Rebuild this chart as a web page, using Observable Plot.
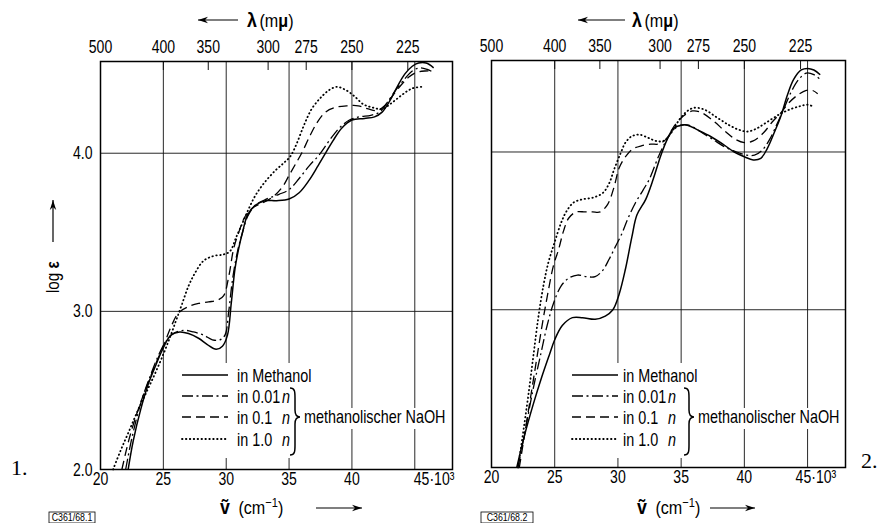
<!DOCTYPE html>
<html><head><meta charset="utf-8">
<script src="https://cdn.jsdelivr.net/npm/d3@7"></script>
<script src="https://cdn.jsdelivr.net/npm/@observablehq/plot@0.6"></script>
<style>
body{margin:0;background:#fff;}
#fig{position:relative;width:882px;height:523px;overflow:hidden;background:#fff;}
#fig svg{position:absolute;top:0;}
</style></head><body><div id="fig"></div>
<script>
// ---- tick values / labels ----
const wavenumberTicks = [20, 25, 30, 35, 40];
const lastWavenumberTick = [45];
const wavelengthTicks = [500, 400, 350, 300, 275, 250, 225];
const logEpsTicks = [2, 3, 4];
const gridWavenumber = [25, 30, 35, 40, 45];
const gridLogEps = [3, 4];
const legendLabels = ["in Methanol", "in 0.01", "in 0.1", "in 1.0"];

// ---- panel 1 (wavenumber in 10^3 cm^-1, log eps) ----
const p1_methanol = [[22.2,2.0],[22.6,2.18],[23.2,2.38],[23.8,2.54],[24.4,2.66],[25.0,2.77],[25.6,2.85],[26.3,2.87],[27.0,2.86],[27.8,2.83],[28.5,2.79],[29.2,2.76],[29.7,2.78],[30.1,2.85],[30.4,3.05],[30.7,3.27],[31.0,3.40],[31.3,3.50],[31.7,3.61],[32.3,3.67],[33.1,3.70],[34.0,3.70],[35.0,3.71],[35.8,3.75],[36.6,3.83],[37.3,3.92],[37.9,4.00],[38.5,4.08],[39.2,4.16],[40.0,4.21],[41.0,4.22],[41.8,4.23],[42.4,4.26],[43.0,4.33],[43.6,4.42],[44.2,4.50],[44.8,4.55],[45.3,4.57],[45.9,4.57],[46.5,4.54]];
const p1_naoh001 = [[22.0,2.0],[22.5,2.2],[23.2,2.42],[24.0,2.6],[24.6,2.72],[25.2,2.81],[25.8,2.86],[26.6,2.88],[27.4,2.87],[28.2,2.85],[28.9,2.82],[29.5,2.82],[29.9,2.85],[30.2,3.0],[30.5,3.2],[30.9,3.38],[31.3,3.50],[31.7,3.60],[32.3,3.67],[33.2,3.71],[34.2,3.74],[35.0,3.77],[35.8,3.84],[36.6,3.92],[37.4,3.99],[38.2,4.08],[39.0,4.16],[39.8,4.21],[40.6,4.23],[41.5,4.24],[42.2,4.26],[42.8,4.32],[43.5,4.40],[44.2,4.47],[44.8,4.52],[45.4,4.54],[46.0,4.53],[46.5,4.51]];
const p1_naoh01 = [[21.7,2.0],[22.3,2.2],[23.0,2.38],[23.7,2.53],[24.4,2.67],[25.0,2.78],[25.6,2.9],[26.2,2.99],[27.0,3.03],[27.8,3.05],[28.6,3.06],[29.3,3.07],[29.8,3.10],[30.2,3.22],[30.6,3.40],[31.0,3.50],[31.5,3.60],[32.2,3.66],[33.0,3.69],[33.8,3.73],[34.5,3.79],[35.0,3.86],[35.5,3.93],[36.0,4.00],[36.6,4.10],[37.2,4.19],[37.9,4.26],[38.7,4.29],[39.6,4.30],[40.5,4.30],[41.3,4.28],[42.0,4.27],[42.6,4.30],[43.2,4.36],[43.9,4.43],[44.5,4.48],[45.1,4.51],[45.8,4.52],[46.5,4.52]];
const p1_naoh10 = [[21.0,2.0],[21.6,2.12],[22.2,2.23],[22.9,2.36],[23.6,2.48],[24.3,2.60],[24.9,2.71],[25.5,2.83],[26.0,2.94],[26.5,3.05],[27.0,3.16],[27.5,3.24],[28.2,3.32],[29.0,3.35],[29.8,3.36],[30.3,3.38],[30.8,3.47],[31.3,3.56],[31.8,3.65],[32.3,3.73],[33.0,3.81],[33.9,3.89],[34.6,3.94],[35.1,3.98],[35.6,4.06],[36.2,4.18],[36.8,4.28],[37.5,4.35],[38.2,4.40],[38.8,4.42],[39.5,4.40],[40.2,4.36],[40.9,4.31],[41.6,4.29],[42.4,4.28],[43.2,4.32],[44.0,4.37],[44.8,4.41],[45.6,4.42]];

// ---- panel 2 ----
const p2_methanol = [[22.0,2.0],[22.6,2.2],[23.3,2.4],[24.0,2.58],[24.6,2.72],[25.0,2.81],[25.6,2.90],[26.4,2.95],[27.2,2.95],[28.2,2.94],[29.0,2.96],[29.6,3.0],[30.1,3.10],[30.6,3.26],[31.1,3.46],[31.5,3.60],[32.2,3.70],[32.8,3.83],[33.4,3.98],[33.9,4.08],[34.4,4.15],[35.0,4.17],[35.5,4.17],[36.3,4.14],[37.3,4.10],[38.3,4.05],[39.2,4.00],[40.0,3.97],[40.7,3.95],[41.3,3.96],[41.8,4.02],[42.4,4.13],[42.9,4.23],[43.4,4.36],[43.9,4.46],[44.5,4.52],[45.0,4.53],[45.5,4.52],[46.0,4.49]];
const p2_naoh001 = [[22.1,2.0],[22.7,2.25],[23.3,2.5],[23.9,2.72],[24.4,2.9],[24.9,3.04],[25.5,3.15],[26.1,3.20],[26.8,3.22],[27.5,3.21],[28.2,3.21],[28.8,3.25],[29.3,3.32],[29.8,3.40],[30.3,3.48],[30.8,3.58],[31.4,3.68],[32.0,3.76],[32.5,3.83],[33.2,3.97],[33.8,4.07],[34.4,4.14],[35.0,4.17],[35.6,4.17],[36.5,4.13],[37.5,4.08],[38.5,4.03],[39.4,4.00],[40.2,3.98],[40.8,3.98],[41.4,4.01],[42.0,4.08],[42.6,4.18],[43.1,4.27],[43.7,4.38],[44.3,4.46],[44.9,4.50],[45.5,4.49],[46.0,4.46]];
const p2_naoh01 = [[22.2,2.0],[22.8,2.3],[23.4,2.6],[24.0,2.9],[24.4,3.08],[24.9,3.28],[25.3,3.38],[25.7,3.50],[26.1,3.58],[26.7,3.62],[27.4,3.62],[28.0,3.62],[28.6,3.62],[29.2,3.67],[29.7,3.78],[30.1,3.90],[30.6,3.97],[31.2,4.02],[31.9,4.04],[32.6,4.05],[33.2,4.05],[33.8,4.08],[34.5,4.17],[35.2,4.23],[35.9,4.26],[36.6,4.25],[37.5,4.20],[38.5,4.13],[39.3,4.08],[40.0,4.06],[40.7,4.07],[41.5,4.12],[42.2,4.19],[42.9,4.25],[43.5,4.31],[44.2,4.36],[44.9,4.39],[45.4,4.39],[45.8,4.37]];
const p2_naoh10 = [[22.1,2.0],[22.5,2.22],[22.9,2.45],[23.3,2.7],[23.7,2.95],[24.1,3.15],[24.5,3.3],[25.0,3.43],[25.5,3.55],[25.9,3.62],[26.5,3.68],[27.2,3.70],[28.0,3.71],[28.8,3.74],[29.3,3.80],[29.7,3.89],[30.2,3.99],[30.6,4.06],[31.1,4.10],[31.7,4.11],[32.4,4.09],[33.0,4.07],[33.6,4.07],[34.2,4.12],[34.9,4.21],[35.5,4.26],[36.0,4.28],[36.8,4.27],[37.8,4.22],[38.8,4.17],[39.6,4.14],[40.3,4.13],[41.0,4.15],[41.8,4.19],[42.8,4.24],[43.6,4.27],[44.4,4.29],[45.0,4.30],[45.4,4.29]];

const FONT = '"Liberation Sans",Arial,sans-serif';
const lineStyles = [
  {dash: undefined, w: 1.5, cap: "butt"},
  {dash: "11,3.5,2,3.5", w: 1.3, cap: "butt"},
  {dash: "9,5", w: 1.3, cap: "butt"},
  {dash: "0.5,3.4", w: 1.8, cap: "round"}
];

const fig = document.getElementById("fig");

// narrow every text horizontally (DIN-like condensed lettering); only x matters
function condense(el, sx) {
  const xs = el.getAttribute("x");
  const x = xs && /^-?[\d.]+$/.test(xs.trim()) ? +xs : 0;
  const t = el.getAttribute("transform") || "";
  el.setAttribute("transform", `${t} translate(${x},0) scale(${sx},1) translate(${-x},0)`.trim());
}

function addPanel(series, cfg) {
  const ink = {stroke: "#111", strokeOpacity: 1, strokeWidth: 0.9};
  const wl = wavelengthTicks.map(l => 1e4 / l);
  const marks = [
    Plot.gridX(gridWavenumber, ink),
    Plot.gridY(gridLogEps, ink),
    Plot.axisX(wavenumberTicks, {anchor: "bottom", tickSize: 0, tickPadding: 2, fontSize: 19, tickFormat: d => String(d)}),
    Plot.axisX(lastWavenumberTick, {anchor: "bottom", tickSize: 0, tickPadding: 2, fontSize: 19, textAnchor: "start", dx: cfg.lastDx, tickFormat: d => d + "·10³"}),
    Plot.axisX(wl, {anchor: "top", tickSize: 0, tickPadding: 9, fontSize: 19, tickFormat: d => String(Math.round(1e4 / d))}),
    Plot.axisX(wl, {anchor: "top", tickSize: 8, dy: 8, tickFormat: () => "", stroke: "#111"}),
    Plot.frame({stroke: "#000", strokeWidth: 1.5})
  ];
  if (cfg.yAxis) marks.push(Plot.axisY(logEpsTicks, {anchor: "left", tickSize: 0, tickPadding: 8, fontSize: 19, tickFormat: d => d.toFixed(1)}));
  series.forEach((pts, k) => {
    const s = lineStyles[k];
    marks.push(Plot.line(pts, {x: d => d[0], y: d => d[1], curve: "catmull-rom", stroke: "#000",
      strokeWidth: s.w, strokeDasharray: s.dash, strokeLinecap: s.cap}));
  });
  const svg = Plot.plot({
    width: cfg.width, height: 523,
    marginLeft: cfg.mL, marginRight: cfg.mR, marginTop: cfg.mT, marginBottom: cfg.mB,
    x: {domain: [20, 48], axis: null},
    y: {domain: [2, 4.58], axis: null},
    style: {fontFamily: FONT, fontSize: "19px", color: "#000", background: "transparent", overflow: "visible"},
    marks
  });
  svg.style.left = cfg.left + "px";
  fig.appendChild(svg);
  svg.querySelectorAll("text").forEach(t => condense(t, 0.74));
}

addPanel([p1_methanol, p1_naoh001, p1_naoh01, p1_naoh10], {left: 0, width: 460, mL: 100, mR: 8, mT: 61, mB: 54, yAxis: true, lastDx: -1});
addPanel([p2_methanol, p2_naoh001, p2_naoh01, p2_naoh10], {left: 450, width: 432, mL: 41, mR: 37, mT: 60, mB: 56, yAxis: false, lastDx: -12});

// ---- overlay: legends, axis titles, captions ----
const ov = d3.select(fig).append("svg").attr("width", 882).attr("height", 523)
  .style("left", "0px").style("font-family", FONT).style("font-size", "19px");

function txt(x, y, sx) {
  const t = ov.append("text").attr("x", x).attr("y", y);
  condense(t.node(), sx);
  return t;
}

function arrow(x1, y1, x2, y2) {
  ov.append("line").attr("x1", x1).attr("y1", y1).attr("x2", x2).attr("y2", y2).attr("stroke", "#000").attr("stroke-width", 1.2);
  const a = Math.atan2(y2 - y1, x2 - x1);
  const L = 10, W = 3.2;
  const bx = x2 - L * Math.cos(a), by = y2 - L * Math.sin(a);
  const px = -Math.sin(a) * W, py = Math.cos(a) * W;
  const mx = x2 - 0.7 * L * Math.cos(a), my = y2 - 0.7 * L * Math.sin(a);
  ov.append("path").attr("d", `M${x2},${y2}L${bx + px},${by + py}L${mx},${my}L${bx - px},${by - py}Z`).attr("fill", "#000");
}

function legend(x0, textX, braceX) {
  const rowsY = [376, 397, 418, 440];
  const sx = 0.8;
  ov.append("rect").attr("x", x0 - 4).attr("y", rowsY[0] - 13).attr("width", braceX + 12 - x0 + 4).attr("height", rowsY[3] + 18 - rowsY[0] + 13).attr("fill", "#fff");
  ov.append("rect").attr("x", braceX + 12).attr("y", rowsY[2] - 10).attr("width", 146).attr("height", 21).attr("fill", "#fff");
  rowsY.forEach((ry, k) => {
    const s = lineStyles[k];
    ov.append("line").attr("x1", x0).attr("x2", x0 + 46).attr("y1", ry - 1).attr("y2", ry - 1)
      .attr("stroke", "#000").attr("stroke-width", s.w).attr("stroke-dasharray", s.dash || null).attr("stroke-linecap", s.cap);
    const t = txt(textX, ry + 6, sx).attr("font-size", 18);
    t.append("tspan").text(legendLabels[k]);
    // italic n aligned in one column (x given in the condensed text's own units)
    if (k > 0) t.append("tspan").attr("x", textX + 45 / sx).attr("font-style", "italic").text("n");
  });
  const top = rowsY[1] - 9, bot = rowsY[3] + 15, mid = rowsY[2] - 1, b = braceX;
  ov.append("path").attr("d",
    `M${b},${top}C${b + 5},${top} ${b + 5},${top + 4} ${b + 5},${top + 10}L${b + 5},${mid - 7}C${b + 5},${mid - 2} ${b + 7},${mid} ${b + 10},${mid}C${b + 7},${mid} ${b + 5},${mid + 2} ${b + 5},${mid + 7}L${b + 5},${bot - 10}C${b + 5},${bot - 4} ${b + 5},${bot} ${b},${bot}`)
    .attr("fill", "none").attr("stroke", "#000").attr("stroke-width", 1.5);
  txt(b + 14, mid + 6.5, sx).attr("font-size", 18).text("methanolischer NaOH");
}
legend(182, 237, 290);
legend(572, 623, 684);

function topTitle(ax1, ax2, lx) {
  arrow(ax2, 20, ax1, 20);
  const t = txt(lx, 27, 0.85);
  t.append("tspan").attr("font-weight", "bold").attr("font-size", 21).text("λ");
  t.append("tspan").attr("dx", 3).text("(m");
  t.append("tspan").attr("font-weight", "bold").text("μ");
  t.append("tspan").text(")");
}
topTitle(198, 238, 247);
topTitle(578, 625, 632);

function bottomTitle(vx, ax1, ax2) {
  const t = txt(vx, 514, 0.85);
  t.append("tspan").attr("font-weight", "bold").attr("font-size", 21).text("ṽ");
  t.append("tspan").attr("dx", 10).text("(cm");
  t.append("tspan").attr("dy", -7).attr("font-size", 13).text("−1");
  t.append("tspan").attr("dy", 7).text(")");
  arrow(ax1, 508, ax2, 508);
}
bottomTitle(220, 316, 362);
bottomTitle(637, 710, 755);

// y title
const yt = ov.append("text").attr("transform", "translate(59,293) rotate(-90) scale(0.8,1)");
yt.append("tspan").text("log ");
yt.append("tspan").attr("font-weight", "bold").text("ε");
arrow(53, 242, 53, 200);

// figure numbers and captions
ov.append("text").attr("x", 11).attr("y", 475).attr("font-family", '"Liberation Serif",serif').attr("font-size", 22).text("1.");
ov.append("text").attr("x", 861).attr("y", 468).attr("font-family", '"Liberation Serif",serif').attr("font-size", 22).text("2.");
function caption(x, w, label) {
  ov.append("rect").attr("x", x).attr("y", 512).attr("width", w).attr("height", 11).attr("fill", "none").attr("stroke", "#000").attr("stroke-width", 0.8);
  txt(x + w / 2, 521.5, 0.8).attr("text-anchor", "middle").attr("font-size", 11).text(label);
}
caption(49, 46, "C361/68.1");
caption(481, 52, "C361/68.2");
</script></body></html>
